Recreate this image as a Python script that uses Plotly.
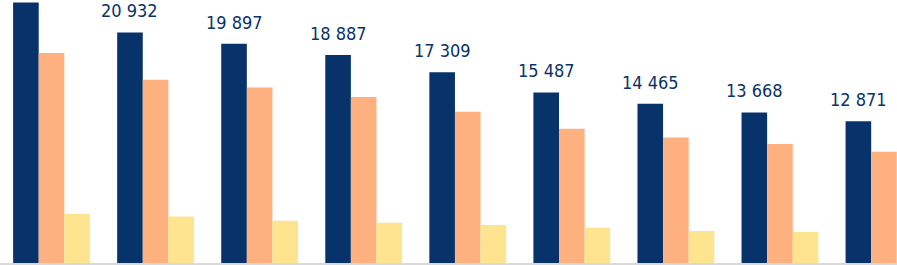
import plotly.graph_objects as go

categories = ["G1", "G2", "G3", "G4", "G5", "G6", "G7", "G8", "G9"]
series_a = [23660, 20932, 19897, 18887, 17309, 15487, 14465, 13668, 12871]
series_b = [19070, 16640, 15940, 15070, 13740, 12190, 11400, 10800, 10110]
series_c = [4450, 4230, 3840, 3660, 3450, 3210, 2910, 2820, 2700]
labels = ["23 660", "20 932", "19 897", "18 887", "17 309", "15 487", "14 465", "13 668", "12 871"]

NAVY = "#07336A"
SALMON = "#FFB07F"
YELLOW = "#FFE48F"
BARGAP = 0.262
Y_TOP = 23880

fig = go.Figure()
fig.add_bar(x=categories, y=series_a, marker=dict(color=NAVY, line=dict(width=0)), name="A")
fig.add_bar(x=categories, y=series_b, marker=dict(color=SALMON, line=dict(width=0)), name="B")
fig.add_bar(x=categories, y=series_c, marker=dict(color=YELLOW, line=dict(width=0)), name="C")

bar_w = (1 - BARGAP) / 3
for i, (v, t) in enumerate(zip(series_a, labels)):
    if v > Y_TOP * 0.92:
        continue  # label lies above the visible area
    fig.add_annotation(
        x=i - bar_w, y=v, xref="x", yref="y", text=t, showarrow=False,
        yanchor="bottom", xanchor="center", yshift=9,
        font=dict(family="Liberation Sans Narrow, DejaVu Sans Condensed, sans-serif", size=18, color=NAVY),
    )

fig.update_layout(
    width=897, height=265,
    margin=dict(l=0, r=0, t=0, b=2),
    barmode="group", bargap=BARGAP, bargroupgap=0,
    plot_bgcolor="white", paper_bgcolor="white",
    showlegend=False, hovermode=False,
    xaxis=dict(range=[-0.495, 8.125], showticklabels=False, showgrid=False,
               zeroline=False, showline=True, linecolor="#D9D9D9", linewidth=2, ticks=""),
    yaxis=dict(range=[0, Y_TOP], showticklabels=False, showgrid=False, zeroline=False),
)

fig.write_html("out.html", config={"displayModeBar": False, "staticPlot": True},
               post_script="document.body.style.margin='0px';document.body.style.overflow='hidden';")
